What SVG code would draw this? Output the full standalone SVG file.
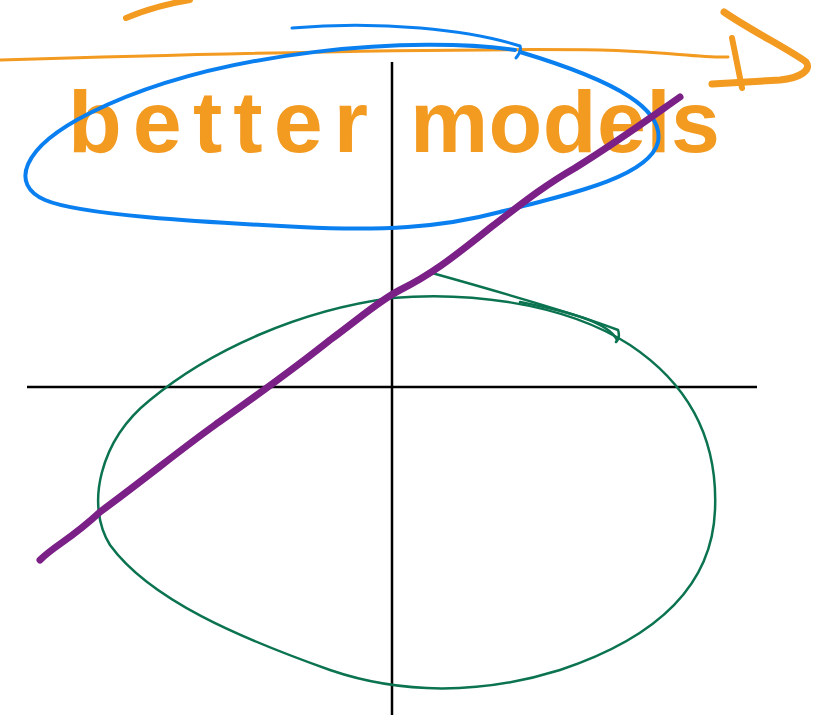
<svg xmlns="http://www.w3.org/2000/svg" width="828" height="727" viewBox="0 0 828 727">
<style>
.ax{stroke:#000;stroke-width:2.5;fill:none}
.or{stroke:#F39A21;fill:none;stroke-linecap:round;stroke-linejoin:round}
.bl{stroke:#0A7FF0;fill:none;stroke-linecap:round}
.gr{stroke:#0B7350;fill:none;stroke-width:2.5;stroke-linecap:round}
.pu{stroke:#7A2087;fill:none;stroke-width:7;stroke-linecap:round;stroke-linejoin:round}
.lbl{font-family:"Liberation Sans","DejaVu Sans",sans-serif;font-size:88px;font-weight:bold;fill:#F39A21}
</style>
<rect width="828" height="727" fill="#fff"/>
<g id="axes">
<line class="ax" x1="392" y1="62" x2="392" y2="715"/>
<line class="ax" x1="27" y1="387" x2="757" y2="387"/>
</g>
<g id="orange-arrow">
<path class="or" stroke-width="6" d="M126,18 C145,10 165,4 190,0"/>
<path class="or" stroke-width="3" d="M0,60 C200,54 450,48 600,50 C660,51 700,58 728,57"/>
<path class="or" stroke-width="7" d="M724,12 C750,30 790,50 806,62 C812,70 800,78 780,80 L712,84"/>
<path class="or" stroke-width="6" d="M732,38 L742,88"/>
</g>
<g id="label">
<text class="lbl" x="68" y="152" textLength="300" lengthAdjust="spacing">better</text>
<text class="lbl" x="410" y="152" textLength="310" lengthAdjust="spacing">models</text>
</g>
<g id="blue-ellipse">
<path class="bl" stroke-width="3" d="M292,28 C380,20 470,30 520,46 C522,52 518,55 516,58"/>
<path class="bl" stroke-width="4" d="M515,50 C420,36 220,48 90,113 C20,148 10,185 45,200 C80,215 200,222 300,227 C380,231 440,228 500,212 C580,192 650,175 658,142 C664,110 620,82 520,52"/>
</g>
<g id="green-ellipse">
<path class="gr" d="M392,298 C460,292 560,300 630,345 C690,385 718,440 715,510 C712,590 650,640 560,670 C480,695 400,694 330,670 C240,638 150,600 110,545 C85,505 100,440 150,400 C210,350 300,310 392,298 Z"/>
<path class="gr" d="M432,273 C500,292 580,315 618,330 C620,336 618,340 616,342"/>
<path class="gr" stroke-width="4" d="M520,302 C570,312 608,322 617,340"/>
</g>
<g id="purple-line">
<path class="pu" d="M40,560 C55,545 70,540 100,512 C150,475 180,450 215,425 C260,393 290,372 330,340 C360,318 380,300 400,290 C430,275 450,260 490,228 C520,205 545,185 575,168 C620,140 650,118 680,97"/>
</g>
</svg>
